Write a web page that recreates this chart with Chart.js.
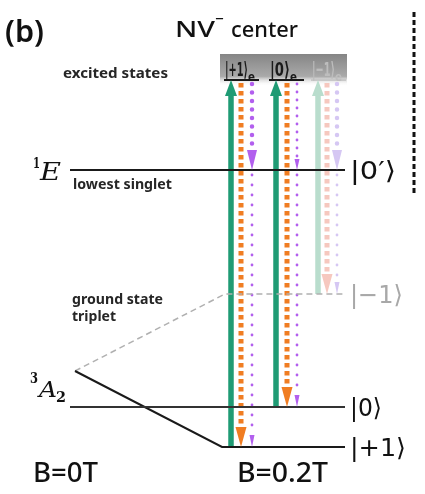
<!DOCTYPE html>
<html lang="en">
<head>
<meta charset="UTF-8">
<title>NV- center levels</title>
<script src="https://cdn.jsdelivr.net/npm/chart.js"></script>
<style>
  body { margin: 0; background: #fff; }
  canvas { display: block; }
</style>
</head>
<body>
<canvas id="myChart" width="425" height="494"></canvas>
<script>
// diagram units: 1 unit = 1 px, y grows downward (higher up = higher energy)
const excitedY = 80;                  // |+1>e, |0>e, |-1>e
const singletY = 170;                 // 1E lowest singlet
const zeroFieldY = 371;               // 3A2 at B=0T
const groundY = [294, 407, 447];      // |-1>, |0>, |+1> at B=0.2T
const groundLabels = ['|−1⟩', '|0⟩', '|+1⟩'];
const excitedLabels = ['|+1⟩', '|0⟩', '|−1⟩'];
const fieldLabels = ['B=0T', 'B=0.2T'];
const fieldX = [75, 222];             // B=0T split point, B=0.2T levels start
const levelX = [70, 345];
// one column of transitions per spin state (+1, 0, -1)
const pumpX = [231, 276, 318];
const fluorX = [241, 287, 327];
const iscX = [252, 297, 337];
const columnLevel = [groundY[2], groundY[1], groundY[0]];

const strong = ['#1f9b74', '#f07d22', '#b25fee'];
const faded = ['#b9ddcd', '#f6c8bf', '#d5c7f3'];

function seg(points, style) {
    return Object.assign({
        data: points.map(p => ({ x: p[0], y: p[1] })),
        showLine: true, pointRadius: 0, fill: false, tension: 0,
        borderCapStyle: 'butt', borderJoinStyle: 'miter', borderWidth: 2, borderColor: '#111'
    }, style);
}

const datasets = [];
// levels
datasets.push(seg([[levelX[0], singletY], [levelX[1], singletY]], { borderColor: '#1a1a1a' }));
datasets.push(seg([[levelX[0], groundY[1]], [levelX[1], groundY[1]]], { borderColor: '#333' }));
datasets.push(seg([[fieldX[0], zeroFieldY], [fieldX[1], groundY[2]], [levelX[1], groundY[2]]], { borderColor: '#1a1a1a' }));
datasets.push(seg([[fieldX[0], zeroFieldY], [fieldX[1] + 3, groundY[0]], [levelX[1], groundY[0]]],
    { borderColor: '#b0b0b0', borderWidth: 1.5, borderDash: [6, 4] }));
// excited state levels
pumpX.forEach((x, i) => {
    datasets.push(seg([[x - 7, excitedY], [x + 28, excitedY]],
        { borderColor: i < 2 ? '#1a1a1a' : '#c8c8c8', borderWidth: 2 }));
});
// divider
datasets.push(seg([[414, 12], [414, 196]], { borderColor: '#111', borderWidth: 3, borderDash: [5, 3] }));

// transitions
pumpX.forEach((x, i) => {
    const c = i < 2 ? strong : faded;
    const lv = columnLevel[i];
    // green pump, upward
    datasets.push(seg([[x, lv], [x, excitedY + 16]], { borderColor: c[0], borderWidth: 5.5, head: { len: 16, w: 12 } }));
    // orange fluorescence, downward
    datasets.push(seg([[fluorX[i], excitedY + 3], [fluorX[i], lv - 20]],
        { borderColor: c[1], borderWidth: 5, borderDash: [4.5, 3.5], head: { len: 20, w: 11 } }));
    // purple intersystem crossing into the singlet
    const big = i !== 1;
    datasets.push(seg([[iscX[i], excitedY + 4], [iscX[i], singletY - (big ? 20 : 11)]],
        { borderColor: c[2], borderWidth: big ? 4.5 : 2.8, borderDash: [0, big ? 8.5 : 8], borderCapStyle: 'round',
          head: big ? { len: 20, w: 10 } : { len: 11, w: 5 } }));
    // purple from the singlet back to the ground state
    datasets.push(seg([[iscX[i], singletY + 5], [iscX[i], lv - 12]],
        { borderColor: c[2], borderWidth: 2.8, borderDash: [0, 10], borderCapStyle: 'round', head: { len: 12, w: 5 } }));
});

const arrowHeads = {
    id: 'arrowHeads',
    afterDatasetsDraw(chart) {
        const ctx = chart.ctx;
        chart.data.datasets.forEach((ds, i) => {
            if (!ds.head) return;
            const pts = chart.getDatasetMeta(i).data;
            const a = pts[pts.length - 2], b = pts[pts.length - 1];
            const dx = b.x - a.x, dy = b.y - a.y, d = Math.hypot(dx, dy);
            const ux = dx / d, uy = dy / d;
            ctx.save();
            ctx.fillStyle = ds.borderColor;
            ctx.beginPath();
            ctx.moveTo(b.x + ux * ds.head.len, b.y + uy * ds.head.len);
            ctx.lineTo(b.x - uy * ds.head.w / 2, b.y + ux * ds.head.w / 2);
            ctx.lineTo(b.x + uy * ds.head.w / 2, b.y - ux * ds.head.w / 2);
            ctx.closePath();
            ctx.fill();
            ctx.restore();
        });
    }
};

function fitText(ctx, text, x, y, w, font, color) {
    ctx.font = font;
    ctx.fillStyle = color || '#111';
    const m = ctx.measureText(text).width;
    ctx.save();
    ctx.translate(x, y);
    ctx.scale(w / m, 1);
    ctx.fillText(text, 0, 0);
    ctx.restore();
}

const excitedBox = {
    id: 'excitedBox',
    beforeDatasetsDraw(chart) {
        const ctx = chart.ctx, sx = chart.scales.x, sy = chart.scales.y;
        const x0 = sx.getPixelForValue(pumpX[0] - 11), x1 = sx.getPixelForValue(pumpX[2] + 29);
        const y0 = sy.getPixelForValue(excitedY - 26), y1 = sy.getPixelForValue(excitedY + 6);
        const g = ctx.createLinearGradient(0, y0, 0, y1);
        g.addColorStop(0, '#858585');
        g.addColorStop(0.7, '#aaaaaa');
        g.addColorStop(1, 'rgba(255,255,255,0)');
        ctx.save();
        ctx.fillStyle = g;
        ctx.fillRect(x0, y0, x1 - x0, y1 - y0);
        ctx.restore();
    }
};

const labels = {
    id: 'labels',
    afterDraw(chart) {
        const ctx = chart.ctx, sx = chart.scales.x, sy = chart.scales.y;
        ctx.save();
        ctx.textBaseline = 'alphabetic';
        fitText(ctx, '(b)', 5, 42, 39, '600 30px "Noto Sans"');
        fitText(ctx, 'NV', 175, 37, 40, '500 22px "Noto Sans"');
        fitText(ctx, '⁻', 215, 32, 9, '500 22px "Noto Sans"');
        fitText(ctx, 'center', 231, 37, 67, '500 22px "Noto Sans"');
        fitText(ctx, 'excited states', 63, 78, 105, 'bold 15px "Noto Sans"', '#262626');

        // excited state kets
        excitedLabels.forEach((t, i) => {
            const x = sx.getPixelForValue(pumpX[i] - 6);
            const col = i < 2 ? '#1a1a1a' : '#bdbdbd';
            const w = t.length > 3 ? 23 : 20;
            fitText(ctx, t, x, sy.getPixelForValue(excitedY) - 4, w, 'bold 20px "DejaVu Sans"', col);
            fitText(ctx, 'e', x + w, sy.getPixelForValue(excitedY) + 1, 7, 'bold 12px "DejaVu Sans"', col);
        });

        // singlet
        const ys = sy.getPixelForValue(singletY);
        fitText(ctx, '1', 33, ys - 2, 7, 'bold 14px "DejaVu Serif"');
        fitText(ctx, 'E', 40, ys + 10, 21, 'italic 24px "DejaVu Serif"');
        fitText(ctx, 'lowest singlet', 73, ys + 19, 99, 'bold 15px "Noto Sans"', '#262626');
        fitText(ctx, '|0′⟩', 350, ys + 9, 46, '25px "DejaVu Sans"');

        // ground state triplet
        fitText(ctx, 'ground state', 72, 304, 91, 'bold 15px "Noto Sans"', '#262626');
        fitText(ctx, 'triplet', 72, 321, 44, 'bold 15px "Noto Sans"', '#262626');
        const yz = sy.getPixelForValue(zeroFieldY);
        fitText(ctx, '3', 30, yz + 12, 8, 'bold 14px "DejaVu Serif"');
        fitText(ctx, 'A', 39, yz + 26, 18, 'italic 23px "DejaVu Serif"');
        fitText(ctx, '2', 56, yz + 31, 10, 'bold 15px "DejaVu Serif"');

        groundLabels.forEach((t, i) => {
            const y = sy.getPixelForValue(groundY[i]);
            const w = [53, 32, 56][i];
            fitText(ctx, t, 350, y + 9, w, '25px "DejaVu Sans"', i === 0 ? '#a8a8a8' : '#111');
        });

        fitText(ctx, fieldLabels[0], 33, 482, 65, '500 27px "Noto Sans"');
        fitText(ctx, fieldLabels[1], sx.getPixelForValue(fieldX[1]) + 15, 482, 91, '500 27px "Noto Sans"');
        ctx.restore();
    }
};

new Chart(document.getElementById('myChart'), {
    type: 'scatter',
    data: { datasets },
    options: {
        responsive: false,
        animation: false,
        events: [],
        layout: { padding: 0 },
        plugins: { legend: { display: false }, tooltip: { enabled: false } },
        scales: {
            x: { type: 'linear', min: 0, max: 425, display: false },
            y: { type: 'linear', min: 0, max: 494, reverse: true, display: false }
        }
    },
    plugins: [excitedBox, arrowHeads, labels]
});
</script>
</body>
</html>
